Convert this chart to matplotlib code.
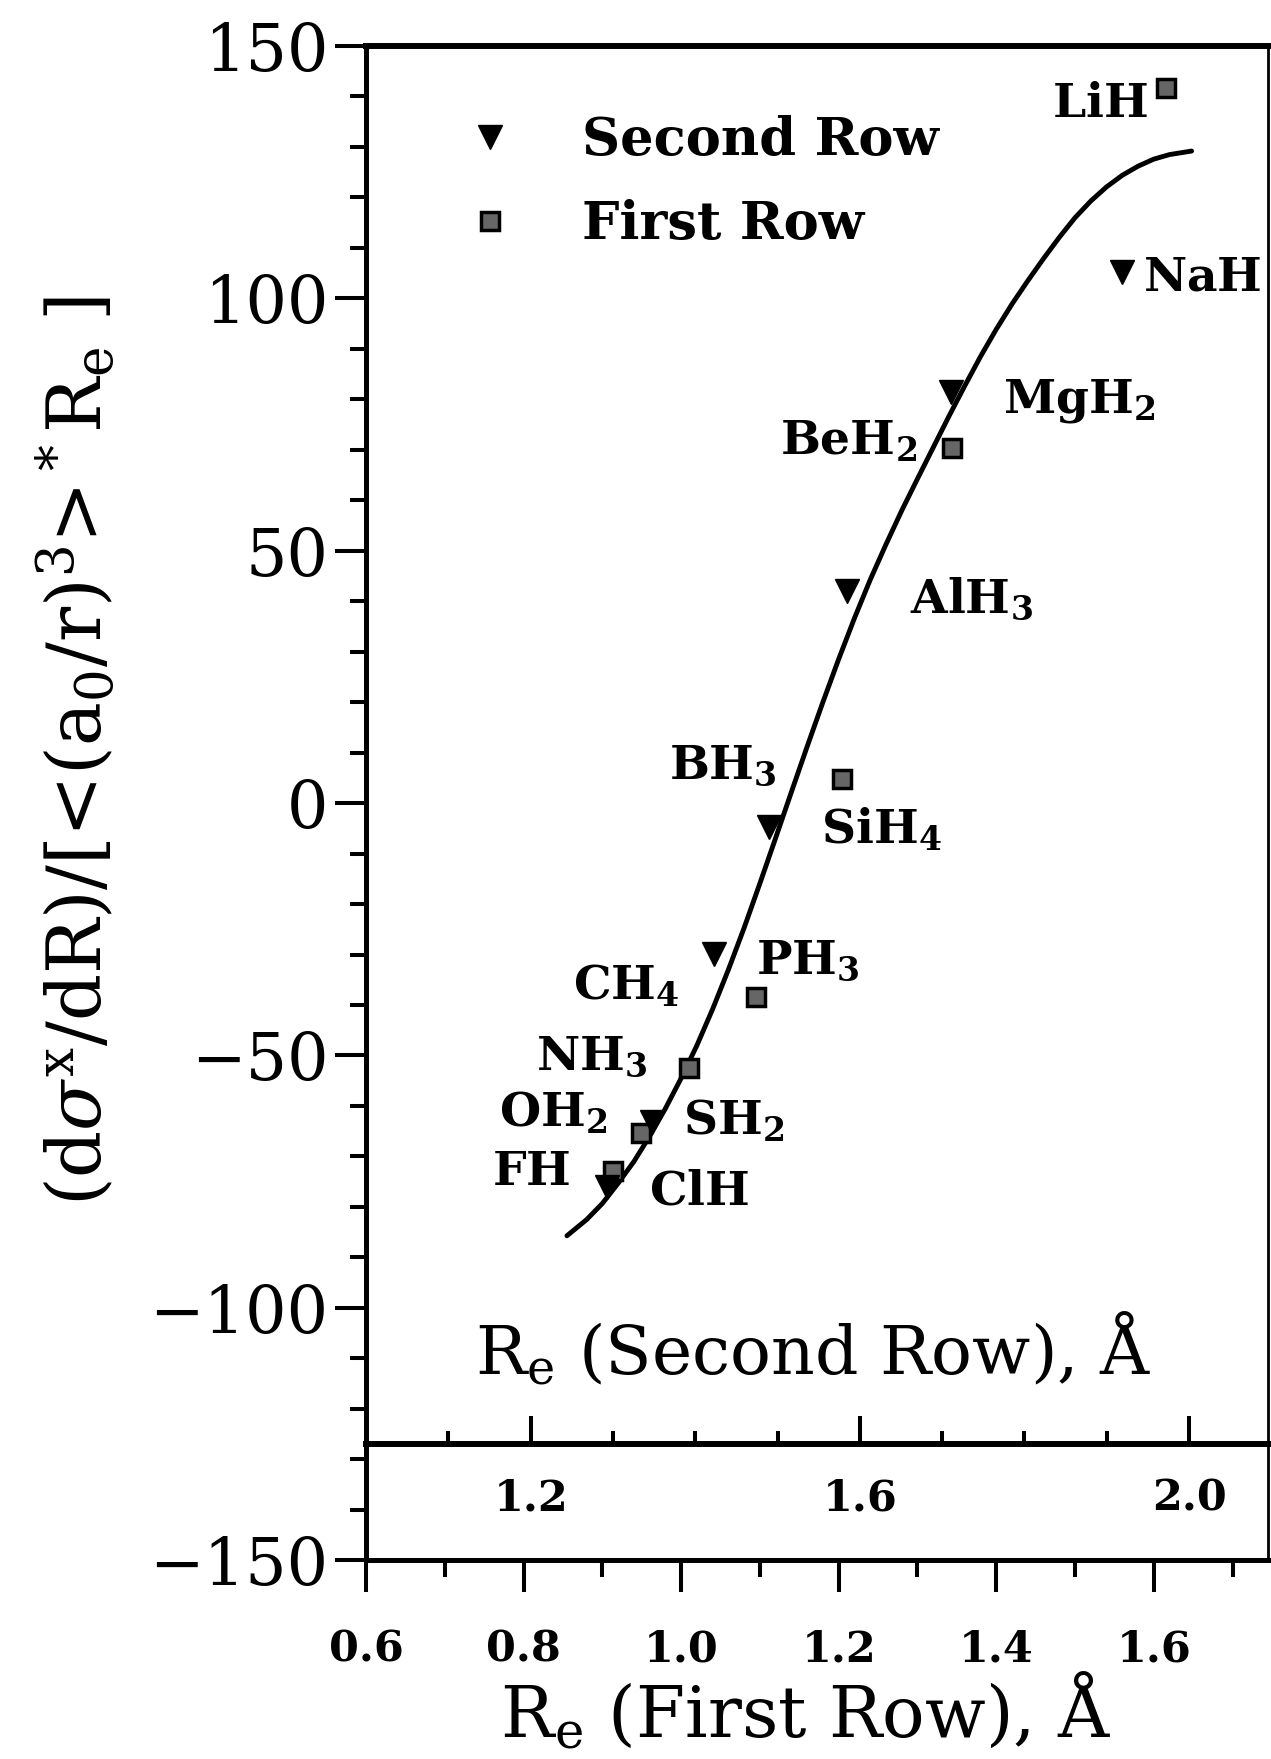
import re
import matplotlib
matplotlib.use("Agg")
import matplotlib.pyplot as plt
from matplotlib.ticker import MultipleLocator, FormatStrFormatter
from matplotlib.lines import Line2D

plt.rcParams['font.family'] = ['DejaVu Serif']
plt.rcParams['mathtext.fontset'] = 'dejavuserif'

# First-row hydrides: plotted against R_e (first row), lower axis
first_names = ['LiH', 'BeH2', 'BH3', 'CH4', 'NH3', 'OH2', 'FH']
first_re = [1.615, 1.344, 1.204, 1.095, 1.010, 0.949, 0.914]
first_val = [141.6, 70.3, 4.8, -38.4, -52.5, -65.3, -72.9]

# Second-row hydrides: plotted against R_e (second row), inner axis
second_names = ['NaH', 'MgH2', 'AlH3', 'SiH4', 'PH3', 'SH2', 'ClH']
second_re = [1.919, 1.711, 1.585, 1.490, 1.423, 1.348, 1.293]
second_val = [105.1, 81.4, 42.0, -4.8, -29.9, -63.2, -76.0]

# Fitted curve (first-row R_e scale)
curve_re = [0.855, 0.88, 0.90, 0.92, 0.94, 0.96, 0.98, 1.00, 1.02, 1.04,
            1.06, 1.08, 1.10, 1.12, 1.14, 1.16, 1.18, 1.20, 1.22, 1.24,
            1.26, 1.28, 1.30, 1.32, 1.34, 1.36, 1.38, 1.40, 1.42, 1.44,
            1.46, 1.48, 1.50, 1.52, 1.54, 1.56, 1.58, 1.60, 1.62, 1.648]
curve_val = [-85.7, -82.5, -79.3, -75.3, -71.0, -66.0, -60.5, -54.5, -48.0, -40.8,
             -33.0, -24.7, -15.9, -6.9, 2.2, 11.2, 20.0, 28.5, 36.6, 44.2,
             51.2, 57.9, 64.2, 70.4, 76.6, 82.6, 88.4, 93.8, 98.8, 103.4,
             107.8, 112.0, 115.9, 119.2, 122.0, 124.3, 126.1, 127.5, 128.4, 129.1]

# Label placement: (dx, dy) in points from the marker, horizontal alignment
label_place = {
    'LiH': (-13, -21, 'right'),
    'NaH': (15, -13, 'left'),
    'MgH2': (37, -15, 'left'),
    'BeH2': (-25, -5, 'right'),
    'AlH3': (45, -16, 'left'),
    'BH3': (-47, 0, 'right'),
    'SiH4': (37, -12, 'left'),
    'PH3': (30, -14, 'left'),
    'CH4': (-55, -2, 'right'),
    'NH3': (-30, -1, 'right'),
    'OH2': (-24, 4, 'right'),
    'SH2': (22, -9, 'left'),
    'FH': (-31, -10, 'right'),
    'ClH': (30, -13, 'left'),
}


def formula(name):
    return r'$\mathbf{' + re.sub(r'(\d)', r'_{\1}', name) + '}$'


fig = plt.figure(figsize=(12.71, 17.59), dpi=100)
ax = fig.add_axes([0.2880, 0.11285, 0.70965, 0.86128])
ax.set_xlim(0.6, 1.745)
ax.set_ylim(-150, 150)

ax2 = ax.twiny()
ax2.set_xlim(1.0, 2.096)

tri_kw = dict(marker='v', color='black', ms=17, ls='none')
sq_kw = dict(marker='s', mfc='#666666', mec='black', mew=2.5, ms=12.5, ls='none')

ax.plot(curve_re, curve_val, color='black', lw=3.5, solid_capstyle='round')
ax.plot(first_re, first_val, **sq_kw)
ax2.plot(second_re, second_val, **tri_kw)

for name, x, y in zip(first_names, first_re, first_val):
    dx, dy, ha = label_place[name]
    ax.annotate(formula(name), (x, y), xytext=(dx, dy), textcoords='offset points',
                ha=ha, va='baseline', fontsize=34)
for name, x, y in zip(second_names, second_re, second_val):
    dx, dy, ha = label_place[name]
    ax2.annotate(formula(name), (x, y), xytext=(dx, dy), textcoords='offset points',
                 ha=ha, va='baseline', fontsize=34)

# Spines
for side, lw in [('top', 4.3), ('left', 3.6), ('bottom', 3.6), ('right', 2.0)]:
    ax.spines[side].set_linewidth(lw)
for side in ['top', 'left', 'right']:
    ax2.spines[side].set_visible(False)
ax2.spines['bottom'].set_visible(True)
ax2.spines['bottom'].set_position(('data', -127))
ax2.spines['bottom'].set_linewidth(4.3)

# Main axes ticks
ax.yaxis.set_major_locator(MultipleLocator(50))
ax.yaxis.set_minor_locator(MultipleLocator(10))
ax.xaxis.set_major_locator(MultipleLocator(0.2))
ax.xaxis.set_minor_locator(MultipleLocator(0.1))
ax.xaxis.set_major_formatter(FormatStrFormatter('%.1f'))
ax.tick_params(axis='y', which='major', direction='out', length=22, width=2.9,
               labelsize=47, pad=5)
ax.tick_params(axis='y', which='minor', direction='out', length=11.5, width=2.9)
ax.tick_params(axis='x', which='major', direction='out', length=23, width=2.9,
               labelsize=31, pad=26)
ax.tick_params(axis='x', which='minor', direction='out', length=12, width=2.9)
ax.set_xticks([0.6, 0.8, 1.0, 1.2, 1.4, 1.6])
plt.setp(ax.get_xticklabels(), fontweight='bold')

# Second-row axis, drawn inside the frame
ax2.xaxis.set_ticks_position('bottom')
ax2.xaxis.set_major_locator(MultipleLocator(0.4))
ax2.xaxis.set_minor_locator(MultipleLocator(0.1))
ax2.xaxis.set_major_formatter(FormatStrFormatter('%.1f'))
ax2.tick_params(axis='x', which='major', direction='in', length=20, width=2.9,
                labelsize=31, pad=24)
ax2.tick_params(axis='x', which='minor', direction='in', length=9.5, width=2.9)
ax2.set_xticks([1.2, 1.6, 2.0])
plt.setp(ax2.get_xticklabels(), fontweight='bold')

ax.set_xlabel(r'R$_{\mathrm{e}}$ (First Row), Å', fontsize=51)
ax.xaxis.set_label_coords(0.488, -0.073)
ax.set_ylabel(r'(d$\sigma^{\mathrm{x}}$/dR)/[<(a$_0$/r)$^3$>${}^*$R$_{\mathrm{e}}$ ]',
              fontsize=53)
ax.yaxis.set_label_coords(-0.275, 0.534)
ax.text(0.4956, 0.1231, r'R$_{\mathrm{e}}$ (Second Row), Å', transform=ax.transAxes,
        ha='center', va='baseline', fontsize=49)

handles = [Line2D([], [], **tri_kw), Line2D([], [], **sq_kw)]
ax2.legend(handles, ['Second Row', 'First Row'], loc='upper left',
           bbox_to_anchor=(0.1082, 0.954), bbox_transform=ax.transAxes,
           frameon=False, borderpad=0, borderaxespad=0, handlelength=1.0,
           handletextpad=1.25, labelspacing=0.63,
           prop={'family': 'DejaVu Serif', 'weight': 'bold', 'size': 38})

fig.savefig('out.png', dpi=100)
